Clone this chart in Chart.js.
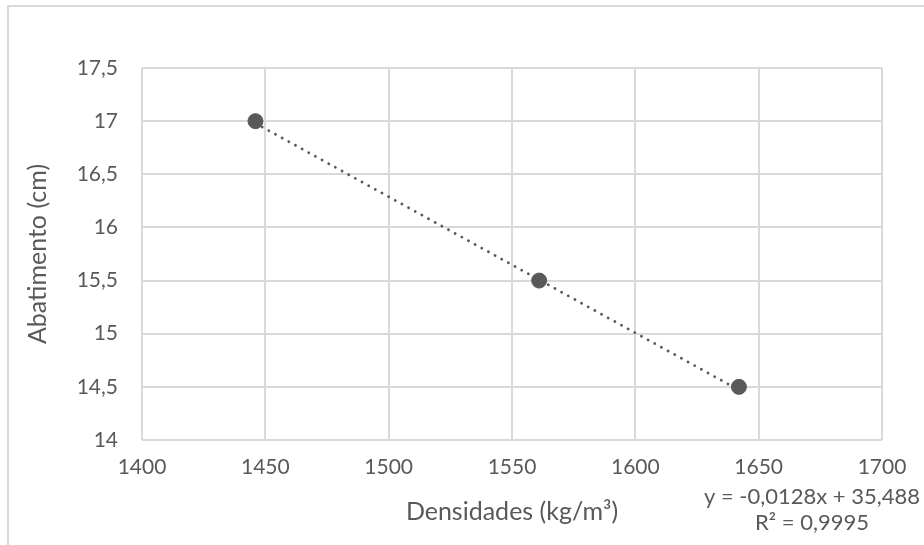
<!DOCTYPE html>
<html>
<head>
<meta charset="utf-8">
<script src="https://cdn.jsdelivr.net/npm/chart.js@4/dist/chart.umd.min.js"></script>
<style>
  html, body { margin: 0; padding: 0; background: #fff; }
  #wrap { width: 924px; height: 545px; }
</style>
</head>
<body>
<div id="wrap"><canvas id="c" width="924" height="545"></canvas></div>
<script>
// ---- data ----
const densidades = [1446, 1561, 1642];          // kg/m³
const abatimentos = [17, 15.5, 14.5];           // cm
const trendX = [1446, 1642];                    // linear trendline ends
const trendY = [16.98, 14.47];
const trendLabel = ['y = -0,0128x + 35,488', 'R² = 0,9995'];
const xTicks = [1400, 1450, 1500, 1550, 1600, 1650, 1700];
const yTicks = [14, 14.5, 15, 15.5, 16, 16.5, 17, 17.5];
const xTitle = 'Densidades (kg/m³)';
const yTitle = 'Abatimento (cm)';
const topTitle = 'Gráfico 4 – Densidades x Abatimentos adotados dos CPs';

const TXT = '#595959';
const GRID = '#d9d9d9';
const FONT = 'Lato, "Open Sans", sans-serif';

const fmt = v => String(v).replace('.', ',');

const decor = {
  id: 'decor',
  beforeDraw(chart) {
    const ctx = chart.ctx;
    ctx.save();
    ctx.strokeStyle = GRID;
    ctx.lineWidth = 2;
    ctx.strokeRect(8, 6, 1100, 1100);
    ctx.fillStyle = TXT;
    ctx.font = 'bold 20px ' + FONT;
    ctx.textBaseline = 'bottom';
    ctx.textAlign = 'left';
    ctx.fillText(topTitle, 2, 1);
    ctx.restore();
  },
  afterDraw(chart) {
    const ctx = chart.ctx;
    ctx.save();
    ctx.fillStyle = TXT;
    ctx.font = '22px ' + FONT;
    ctx.textAlign = 'center';
    ctx.textBaseline = 'middle';
    ctx.fillText(trendLabel[0], 812, 497);
    ctx.fillText(trendLabel[1], 812, 523);
    ctx.restore();
  }
};

new Chart(document.getElementById('c'), {
  type: 'scatter',
  data: {
    datasets: [
      {
        label: 'Tendência',
        data: trendX.map((x, i) => ({ x, y: trendY[i] })),
        showLine: true,
        borderColor: TXT,
        borderWidth: 2.8,
        borderDash: [0.1, 7.5],
        borderCapStyle: 'round',
        pointRadius: 0,
        fill: false,
        order: 2
      },
      {
        label: 'Abatimento',
        data: densidades.map((x, i) => ({ x, y: abatimentos[i] })),
        backgroundColor: '#595959',
        borderColor: '#595959',
        pointRadius: 7.5,
        pointHoverRadius: 7.5,
        order: 1
      }
    ]
  },
  options: {
    responsive: false,
    animation: false,
    layout: { padding: { left: 0, top: 68, right: 42, bottom: 0 } },
    plugins: {
      legend: { display: false },
      tooltip: { enabled: false },
      title: { display: false }
    },
    scales: {
      x: {
        type: 'linear',
        min: 1400, max: 1700,
        afterBuildTicks: s => { s.ticks = xTicks.map(v => ({ value: v })); },
        afterFit: s => { s.height = 105; },
        border: { display: false },
        grid: { color: GRID, lineWidth: 2, drawTicks: false },
        ticks: { color: TXT, font: { family: FONT, size: 21 }, padding: 15, callback: v => fmt(v), maxRotation: 0 },
        title: { display: true, text: xTitle, color: TXT, font: { family: FONT, size: 25 }, padding: { top: 0, bottom: 18 } }
      },
      y: {
        type: 'linear',
        min: 14, max: 17.5,
        afterBuildTicks: s => { s.ticks = yTicks.map(v => ({ value: v })); },
        afterFit: s => { s.width = 142; },
        border: { display: false },
        grid: { color: GRID, lineWidth: 2, drawTicks: false },
        ticks: { color: TXT, font: { family: FONT, size: 21 }, padding: 24, callback: v => fmt(v) },
        title: { display: true, text: yTitle, color: TXT, font: { family: FONT, size: 25 }, padding: { top: 23, bottom: 0 } }
      }
    }
  },
  plugins: [decor]
});
</script>
</body>
</html>
